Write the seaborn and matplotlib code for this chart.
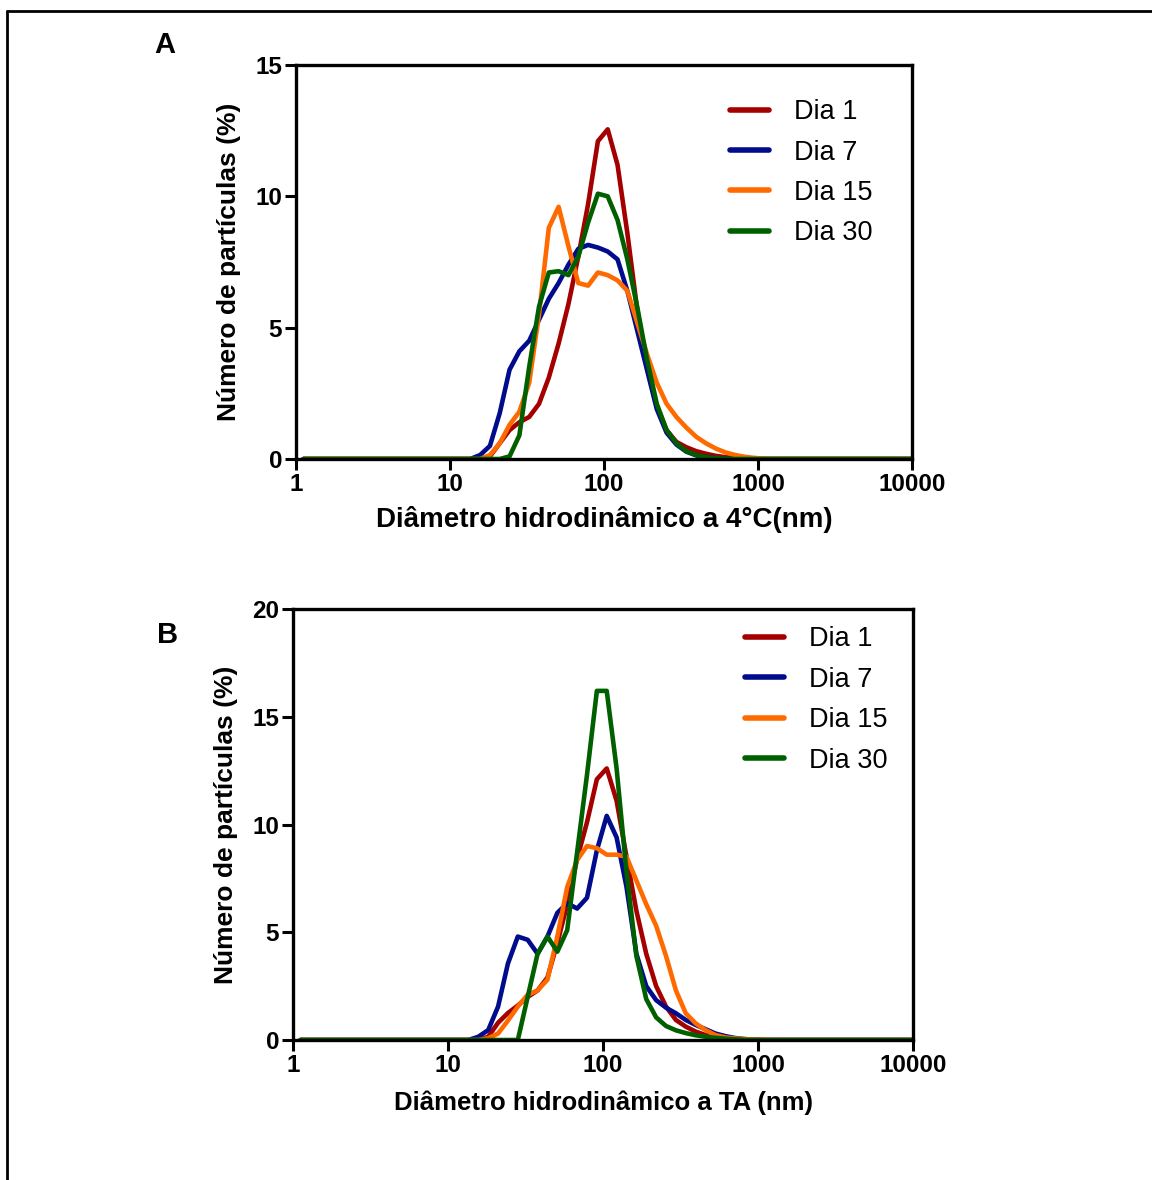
import matplotlib
matplotlib.use("Agg")
import numpy as np
import pandas as pd
import seaborn as sns
from matplotlib import pyplot as plt
from matplotlib.lines import Line2D

# DLS size bins (nm), Zetasizer-style log bins
diameters = [1.117, 1.294, 1.499, 1.736, 2.010, 2.328, 2.696, 3.122, 3.615, 4.187,
             4.849, 5.615, 6.503, 7.531, 8.721, 10.10, 11.70, 13.54, 15.69, 18.17,
             21.04, 24.36, 28.21, 32.67, 37.84, 43.82, 50.75, 58.77, 68.06, 78.82,
             91.28, 105.7, 122.4, 141.8, 164.2, 190.1, 220.2, 255.0, 295.3, 342.0,
             396.1, 458.7, 531.2, 615.1, 712.4, 825.0, 955.4, 1106, 1281, 1484,
             1718, 1990, 2305, 2669, 3091, 3580, 4145, 4801, 5560, 6439,
             7456, 8635, 10000]

# values from 13.54 nm up to 1484 nm; everything else is zero
lead = [0.0] * 17
tail = [0.0] * 13

# panel A: 4 degC
a_dia1 = lead + [0, 0, 0.1, 0.6, 1.1, 1.4, 1.6, 2.1, 3.1, 4.4, 5.9, 7.7, 9.7, 12.1,
                 12.55, 11.2, 8.6, 5.7, 3.5, 2.0, 1.1, 0.65, 0.45, 0.3, 0.2, 0.12,
                 0.07, 0.04, 0.02, 0.01, 0, 0, 0] + tail
a_dia7 = lead + [0, 0.15, 0.5, 1.75, 3.4, 4.1, 4.5, 5.3, 6.1, 6.7, 7.4, 8.0, 8.15,
                 8.05, 7.9, 7.6, 6.4, 4.9, 3.4, 1.9, 1.0, 0.55, 0.28, 0.14, 0.07,
                 0.03, 0.01, 0, 0, 0, 0, 0, 0] + tail
a_dia15 = lead + [0, 0, 0.15, 0.6, 1.3, 1.8, 2.9, 5.5, 8.8, 9.6, 8.1, 6.7, 6.6,
                  7.1, 7.0, 6.8, 6.4, 5.2, 4.0, 2.9, 2.1, 1.6, 1.2, 0.85, 0.6, 0.4,
                  0.25, 0.15, 0.08, 0.04, 0.01, 0, 0] + tail
a_dia30 = lead + [0, 0, 0, 0, 0.1, 0.9, 3.5, 5.8, 7.1, 7.15, 7.0, 7.7, 9.0, 10.1,
                  10.0, 9.1, 7.6, 5.8, 3.8, 2.1, 1.1, 0.6, 0.3, 0.15, 0.07, 0.03,
                  0.01, 0, 0, 0, 0, 0, 0] + tail

# panel B: room temperature
b_dia1 = lead + [0, 0, 0.15, 0.8, 1.25, 1.6, 2.0, 2.3, 2.9, 4.5, 6.3, 8.4, 10.1,
                 12.1, 12.6, 11.1, 8.5, 6.0, 4.0, 2.5, 1.55, 0.93, 0.62, 0.39, 0.23,
                 0.15, 0.08, 0.04, 0.02, 0.01, 0, 0, 0] + tail
b_dia7 = lead + [0, 0.15, 0.46, 1.55, 3.55, 4.8, 4.65, 4.0, 4.8, 5.9, 6.35, 6.1,
                 6.6, 8.8, 10.4, 9.4, 7.1, 4.0, 2.5, 1.85, 1.5, 1.24, 0.93, 0.7, 0.5,
                 0.3, 0.18, 0.09, 0.04, 0.01, 0, 0, 0] + tail
b_dia15 = lead + [0, 0, 0.08, 0.3, 0.9, 1.55, 2.1, 2.3, 2.8, 4.8, 7.1, 8.35, 9.0,
                  8.9, 8.6, 8.6, 8.5, 7.4, 6.3, 5.3, 3.9, 2.3, 1.24, 0.77, 0.46,
                  0.23, 0.12, 0.07, 0.04, 0.02, 0.01, 0, 0] + tail
b_dia30 = lead + [0, 0, 0, 0, 0, 0, 2.0, 4.0, 4.8, 4.1, 5.1, 8.7, 12.3, 16.2,
                  16.2, 12.6, 7.8, 3.9, 1.9, 1.05, 0.65, 0.45, 0.32, 0.22, 0.15,
                  0.1, 0.06, 0.03, 0.01, 0, 0, 0, 0] + tail

series_names = ["Dia 1", "Dia 7", "Dia 15", "Dia 30"]
palette = ["#a50000", "#000c8c", "#ff6a00", "#006000"]


def make_frame(curves):
    rows = []
    for name, vals in zip(series_names, curves):
        rows.append(pd.DataFrame({"d": diameters[:len(vals)], "pct": vals, "serie": name}))
    return pd.concat(rows, ignore_index=True)


def draw_panel(ax, df, ymax, xlabel, xlabel_size, xlabel_pad, legend_anchor):
    sns.lineplot(data=df, x="d", y="pct", hue="serie", palette=palette,
                 hue_order=series_names, linewidth=3.3, ax=ax, legend=True)
    ax.set_xscale("log")
    ax.set_xlim(1, 10000)
    ax.set_ylim(0, ymax)
    ax.set_xticks([1, 10, 100, 1000, 10000])
    ax.set_xticklabels(["1", "10", "100", "1000", "10000"])
    ax.set_yticks(list(range(0, ymax + 1, 5)))
    ax.minorticks_off()
    ax.tick_params(axis="both", direction="out", length=8, width=2.2,
                   labelsize=17.5, pad=2, colors="black")
    for lab in ax.get_xticklabels() + ax.get_yticklabels():
        lab.set_fontweight("bold")
    for sp in ax.spines.values():
        sp.set_linewidth(2.4)
        sp.set_color("black")
    ax.set_xlabel(xlabel, fontsize=xlabel_size, fontweight="bold",
                  labelpad=xlabel_pad, color="black")
    ax.set_ylabel("Número de partículas (%)", fontsize=19, fontweight="bold",
                  labelpad=10, color="black")
    handles, labels = ax.get_legend_handles_labels()
    ax.legend(handles, labels, loc="upper left", bbox_to_anchor=legend_anchor,
              frameon=False, fontsize=19.5, handlelength=1.45, handletextpad=0.9,
              labelspacing=0.53)
    for h in ax.get_legend().legend_handles:
        h.set_linewidth(4)


sns.set_style("ticks")
plt.rcParams["font.family"] = ["Liberation Sans", "DejaVu Sans"]
plt.rcParams["text.color"] = "black"

fig = plt.figure(figsize=(11.52, 11.8), dpi=100)
ax_a = fig.add_axes([296 / 1152, 1 - 459 / 1180, 616 / 1152, 394 / 1180])
ax_b = fig.add_axes([293 / 1152, 1 - 1040 / 1180, 620 / 1152, 431 / 1180])

draw_panel(ax_a, make_frame([a_dia1, a_dia7, a_dia15, a_dia30]), 15,
           "Diâmetro hidrodinâmico a 4°C(nm)", 20, 7, (0.665, 0.975))
draw_panel(ax_b, make_frame([b_dia1, b_dia7, b_dia15, b_dia30]), 20,
           "Diâmetro hidrodinâmico a TA (nm)", 18.5, 10, (0.69, 1.016))

fig.text(165 / 1152, 1 - 45 / 1180, "A", fontsize=21, fontweight="bold",
         ha="center", va="center")
fig.text(168 / 1152, 1 - 635 / 1180, "B", fontsize=21, fontweight="bold",
         ha="center", va="center")

# outer frame: top and left only
fig.add_artist(Line2D([7 / 1152, 1], [1 - 11 / 1180, 1 - 11 / 1180],
                      transform=fig.transFigure, color="black", linewidth=2))
fig.add_artist(Line2D([7 / 1152, 7 / 1152], [0, 1 - 11 / 1180],
                      transform=fig.transFigure, color="black", linewidth=2))

fig.savefig("out.png", dpi=100, facecolor="white")
plt.close(fig)
